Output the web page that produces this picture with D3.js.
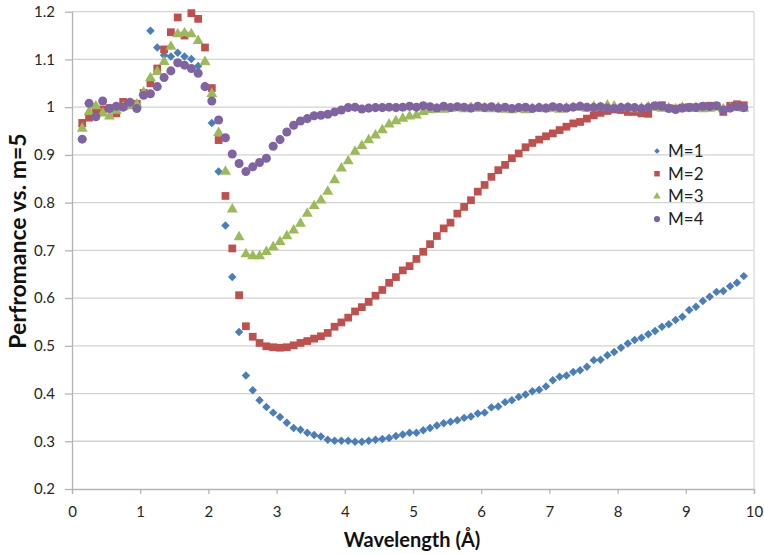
<!DOCTYPE html>
<html>
<head>
<meta charset="utf-8">
<script src="https://cdn.jsdelivr.net/npm/d3@7"></script>
<style>
  body { margin: 0; background: #fff; }
  svg { display: block; font-family: Lato, "Liberation Sans", sans-serif; }
</style>
</head>
<body>
<svg width="764" height="554"></svg>
<script>
// wavelength in angstrom, shared by all four series
const wavelength = [
  0.15, 0.25, 0.35, 0.45, 0.55, 0.65, 0.75, 0.85, 0.95, 1.05,
  1.15, 1.25, 1.35, 1.45, 1.55, 1.65, 1.75, 1.85, 1.95, 2.05,
  2.15, 2.25, 2.35, 2.45, 2.55, 2.65, 2.75, 2.85, 2.95, 3.05,
  3.15, 3.25, 3.35, 3.45, 3.55, 3.65, 3.75, 3.85, 3.95, 4.05,
  4.15, 4.25, 4.35, 4.45, 4.55, 4.65, 4.75, 4.85, 4.95, 5.05,
  5.15, 5.25, 5.35, 5.45, 5.55, 5.65, 5.75, 5.85, 5.95, 6.05,
  6.15, 6.25, 6.35, 6.45, 6.55, 6.65, 6.75, 6.85, 6.95, 7.05,
  7.15, 7.25, 7.35, 7.45, 7.55, 7.65, 7.75, 7.85, 7.95, 8.05,
  8.15, 8.25, 8.35, 8.45, 8.55, 8.65, 8.75, 8.85, 8.95, 9.05,
  9.15, 9.25, 9.35, 9.45, 9.55, 9.65, 9.75, 9.85
]

const m1 = [
  0.960, 0.985, 0.990, 0.990, 0.995, 1.000, 1.000, 1.005, 1.005, 1.030,
  1.160, 1.125, 1.109, 1.106, 1.114, 1.106, 1.101, 1.086, 1.045, 0.967,
  0.865, 0.752, 0.644, 0.529, 0.438, 0.407, 0.386, 0.372, 0.360, 0.351,
  0.339, 0.328, 0.324, 0.318, 0.313, 0.310, 0.303, 0.301, 0.301, 0.301,
  0.299, 0.299, 0.301, 0.303, 0.305, 0.307, 0.311, 0.314, 0.318, 0.318,
  0.323, 0.328, 0.333, 0.338, 0.341, 0.344, 0.349, 0.352, 0.358, 0.360,
  0.371, 0.373, 0.382, 0.386, 0.393, 0.398, 0.405, 0.408, 0.415, 0.428,
  0.435, 0.438, 0.445, 0.449, 0.456, 0.470, 0.471, 0.480, 0.487, 0.496,
  0.505, 0.512, 0.517, 0.524, 0.531, 0.540, 0.545, 0.554, 0.561, 0.575,
  0.582, 0.594, 0.603, 0.613, 0.615, 0.625, 0.632, 0.646
]

const m2 = [
  0.967, 0.978, 0.990, 0.995, 0.998, 0.987, 1.011, 1.005, 1.007, 1.030,
  1.050, 1.081, 1.121, 1.157, 1.188, 1.150, 1.197, 1.185, 1.125, 1.040,
  0.931, 0.814, 0.704, 0.606, 0.541, 0.519, 0.506, 0.499, 0.497, 0.496,
  0.497, 0.501, 0.506, 0.510, 0.515, 0.520, 0.527, 0.540, 0.549, 0.559,
  0.572, 0.581, 0.592, 0.605, 0.617, 0.632, 0.644, 0.658, 0.667, 0.682,
  0.697, 0.713, 0.730, 0.746, 0.758, 0.777, 0.791, 0.805, 0.823, 0.837,
  0.854, 0.868, 0.879, 0.893, 0.903, 0.916, 0.925, 0.932, 0.939, 0.945,
  0.952, 0.959, 0.966, 0.969, 0.976, 0.983, 0.988, 0.992, 0.995, 0.994,
  0.990, 0.990, 0.987, 0.986, 1.002, 1.004, 0.998, 0.997, 0.999, 1.000,
  0.998, 1.001, 1.003, 1.002, 0.990, 1.003, 1.006, 1.004
]

const m3 = [
  0.955, 0.990, 1.002, 0.987, 0.981, 0.993, 1.000, 1.002, 1.006, 1.031,
  1.061, 1.074, 1.095, 1.127, 1.153, 1.155, 1.153, 1.139, 1.095, 1.028,
  0.946, 0.865, 0.786, 0.728, 0.692, 0.688, 0.688, 0.697, 0.707, 0.718,
  0.730, 0.742, 0.756, 0.777, 0.793, 0.805, 0.823, 0.847, 0.872, 0.887,
  0.907, 0.919, 0.931, 0.941, 0.952, 0.964, 0.971, 0.976, 0.981, 0.983,
  0.990, 0.994, 0.996, 0.995, 0.997, 0.998, 0.996, 0.999, 0.997, 0.998,
  0.996, 0.999, 0.995, 0.994, 0.996, 0.994, 0.997, 0.998, 0.996, 0.997,
  0.995, 0.998, 0.999, 1.000, 0.997, 1.001, 0.999, 1.004, 1.002, 0.998,
  0.999, 0.996, 0.998, 1.000, 0.999, 0.997, 0.998, 0.996, 0.999, 0.997,
  0.998, 0.996, 0.997, 0.999, 0.996, 0.998, 0.999, 0.997
]

const m4 = [
  0.933, 1.008, 0.980, 1.013, 0.997, 1.002, 1.000, 1.010, 0.997, 1.025,
  1.028, 1.043, 1.062, 1.076, 1.093, 1.088, 1.081, 1.071, 1.043, 1.013,
  0.973, 0.936, 0.902, 0.882, 0.865, 0.875, 0.884, 0.893, 0.918, 0.932,
  0.948, 0.962, 0.971, 0.976, 0.982, 0.983, 0.985, 0.990, 0.994, 0.999,
  1.000, 0.996, 0.998, 0.999, 0.999, 1.000, 0.999, 1.000, 1.002, 1.000,
  1.003, 1.001, 0.998, 1.002, 0.999, 1.001, 1.000, 0.998, 1.002, 0.999,
  1.001, 0.998, 1.000, 0.997, 0.999, 1.000, 0.997, 0.999, 0.998, 1.001,
  0.999, 0.998, 1.000, 1.002, 1.000, 0.999, 1.001, 0.998, 0.997, 0.999,
  1.000, 0.999, 0.997, 0.999, 1.003, 1.002, 0.997, 0.995, 0.998, 0.999,
  1.000, 1.002, 1.001, 1.003, 0.994, 0.998, 1.001, 0.999
]

const seriesNames = ["M=1", "M=2", "M=3", "M=4"]
const xTicks = [0, 1, 2, 3, 4, 5, 6, 7, 8, 9, 10]
const yTicks = [0.2, 0.3, 0.4, 0.5, 0.6, 0.7, 0.8, 0.9, 1, 1.1, 1.2]
const yTickLabels = ["0.2", "0.3", "0.4", "0.5", "0.6", "0.7", "0.8", "0.9", "1", "1.1", "1.2"]

const colors = ["#4a7ebb", "#c0504d", "#9bbb59", "#8064a2"]
// marker shape + area, plot and legend
const shapes = [
  {type: d3.symbolSquare, size: 36, legendSize: 16, rot: 45},
  {type: d3.symbolSquare, size: 60, legendSize: 30, rot: 0},
  {type: d3.symbolTriangle, size: 52, legendSize: 24, rot: 0},
  {type: d3.symbolCircle, size: 64, legendSize: 30, rot: 0}
]

const svg = d3.select("svg")

const x = d3.scaleLinear().domain([0, 10]).range([72, 754])
const y = d3.scaleLinear().domain([0.2, 1.2]).range([489, 11.7])

// grid
svg.append("g")
  .selectAll("line")
  .data(yTicks.slice(1))
  .join("line")
  .attr("x1", x(0)).attr("x2", x(10))
  .attr("y1", d => y(d)).attr("y2", d => y(d))
  .attr("stroke", "#d2d2d2")
  .attr("stroke-width", 1.3)

// right border
svg.append("line")
  .attr("x1", x(10)).attr("x2", x(10))
  .attr("y1", y(1.2)).attr("y2", y(0.2))
  .attr("stroke", "#dadada")
  .attr("stroke-width", 1.3)

const yAxis = svg.append("g")
  .attr("transform", `translate(${x(0)},0)`)
  .call(d3.axisLeft(y).tickValues(yTicks)
    .tickFormat((d, i) => yTickLabels[i])
    .tickSize(7).tickPadding(10))

const xAxis = svg.append("g")
  .attr("transform", `translate(0,${y(0.2)})`)
  .call(d3.axisBottom(x).tickValues(xTicks)
    .tickFormat(d3.format("d"))
    .tickSize(5).tickPadding(12))

svg.selectAll(".domain").attr("stroke", "#b4b4b4").attr("stroke-width", 1.3)
svg.selectAll(".tick line").attr("stroke", "#b4b4b4").attr("stroke-width", 1.3)
svg.selectAll(".tick text")
  .attr("fill", "#262626")
  .style("font-size", "15px")
  .style("font-family", "Lato, sans-serif")
yAxis.select(".domain").attr("d", `M0.5,${y(1.2)}V${y(0.2)}`)

// series, M=1 drawn first so M=4 ends on top
const all = [m1, m2, m3, m4]
all.forEach((vals, k) => {
  const sym = d3.symbol().type(shapes[k].type).size(shapes[k].size)
  svg.append("g")
    .selectAll("path")
    .data(vals)
    .join("path")
    .attr("d", sym)
    .attr("transform", (d, i) => `translate(${x(wavelength[i])},${y(d)}) rotate(${shapes[k].rot})`)
    .attr("fill", colors[k])
})

// legend
const legend = svg.append("g")
seriesNames.forEach((name, k) => {
  const ly = 151 + k * 22.7
  legend.append("path")
    .attr("d", d3.symbol().type(shapes[k].type).size(shapes[k].legendSize))
    .attr("transform", `translate(657,${ly}) rotate(${shapes[k].rot})`)
    .attr("fill", colors[k])
  legend.append("text")
    .attr("x", 668)
    .attr("y", ly + 6)
    .attr("fill", "#222")
    .style("font-size", "17px")
    .text(name)
})

// axis titles
svg.append("text")
  .attr("x", 412)
  .attr("y", 547)
  .attr("text-anchor", "middle")
  .attr("fill", "#111")
  .style("font-size", "20px")
  .style("font-weight", "bold")
  .text("Wavelength (Å)")

svg.append("text")
  .attr("transform", "translate(26,241) rotate(-90)")
  .attr("text-anchor", "middle")
  .attr("fill", "#111")
  .style("font-size", "23px")
  .style("font-weight", "bold")
  .text("Perfromance vs. m=5")
</script>
</body>
</html>
